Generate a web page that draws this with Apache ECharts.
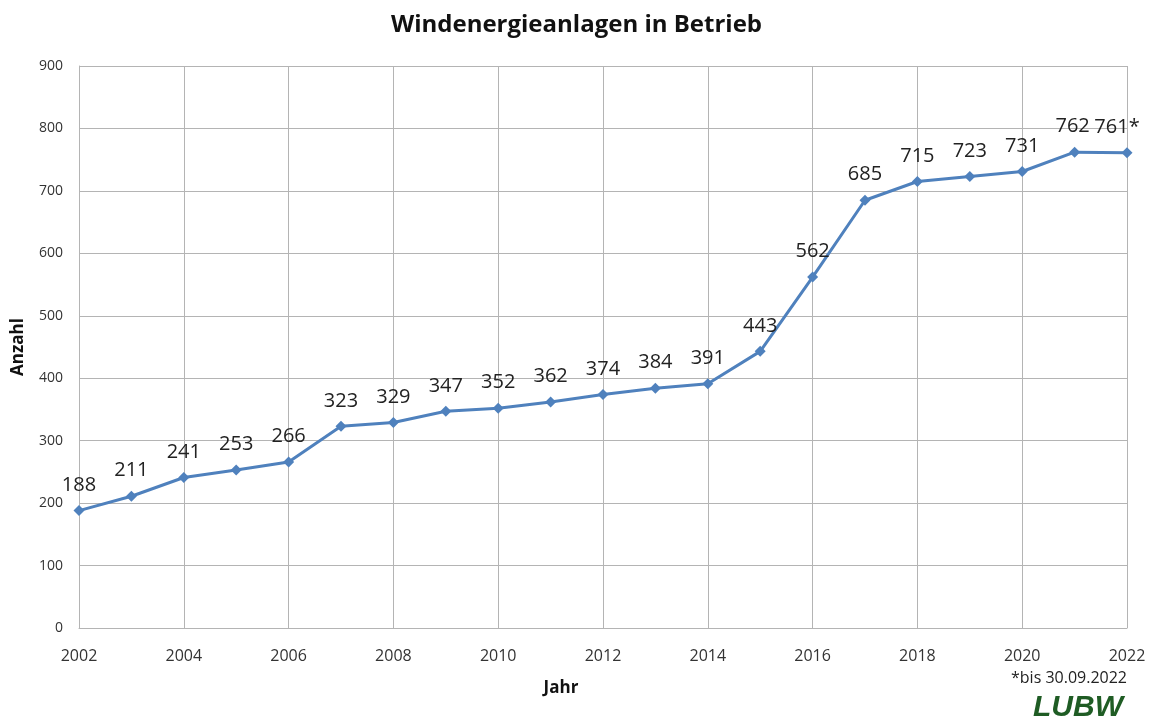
<!DOCTYPE html>
<html><head><meta charset="utf-8">
<script src="https://cdn.jsdelivr.net/npm/echarts@6/dist/echarts.min.js"></script>
<style>html,body{margin:0;padding:0;background:#fff}#c{width:1153px;height:724px}</style>
</head><body><div id="c"></div>
<script>
const years = [2002,2003,2004,2005,2006,2007,2008,2009,2010,2011,2012,2013,2014,2015,2016,2017,2018,2019,2020,2021,2022];
const values = [188,211,241,253,266,323,329,347,352,362,374,384,391,443,562,685,715,723,731,762,761];
const pointLabels = ['188','211','241','253','266','323','329','347','352','362','374','384','391','443','562','685','715','723','731','762','761*'];
const titleText = 'Windenergieanlagen in Betrieb';
const footnote = '*bis 30.09.2022';

const font = '"Open Sans", "Noto Sans", sans-serif';
const data = years.map((y,i)=>{
  const d = {value:[y, values[i]]};
  if (i === years.length-1) d.label = {offset:[-10,0]};
  if (i === years.length-2) d.label = {offset:[-2,0]};
  return d;
});
const chart = echarts.init(document.getElementById('c'), null, {renderer:'canvas'});
chart.setOption({
  animation:false,
  backgroundColor:'#fff',
  title:{text:titleText,left:'center',top:8,textStyle:{fontFamily:font,fontSize:24,fontWeight:'bold',color:'#111'}},
  grid:{left:79,right:26,top:66,bottom:96,containLabel:false,outerBoundsMode:'none'},
  xAxis:{type:'value',min:2002,max:2022,interval:2,
    name:'Jahr',nameLocation:'middle',nameGap:52,
    nameTextStyle:{fontFamily:font,fontSize:17,fontWeight:'bold',color:'#111',padding:[0,84,0,0]},
    axisLine:{show:true,lineStyle:{color:'#b4b4b4'}},axisTick:{show:false},
    axisLabel:{fontFamily:font,fontSize:16,color:'#333',margin:20,formatter:v=>String(v)},
    splitLine:{show:true,lineStyle:{color:'#b4b4b4',width:1}}},
  yAxis:{type:'value',min:0,max:900,interval:100,
    name:'Anzahl',nameLocation:'middle',nameGap:52,nameRotate:90,
    nameTextStyle:{fontFamily:font,fontSize:17,fontWeight:'bold',color:'#111'},
    axisLine:{show:true,lineStyle:{color:'#b4b4b4'}},axisTick:{show:false},
    axisLabel:{fontFamily:font,fontSize:14,color:'#333',margin:16},
    splitLine:{show:true,lineStyle:{color:'#b4b4b4',width:1}}},
  series:[{type:'line',data:data,
    lineStyle:{color:'#4f81bd',width:3},
    itemStyle:{color:'#4f81bd'},
    symbol:'diamond',symbolSize:11,
    label:{show:true,position:'top',distance:10,fontFamily:font,fontSize:20,color:'#222',
      formatter:p=>pointLabels[p.dataIndex]}}],
  graphic:[
    {type:'text',right:26,top:670,style:{text:footnote,font:'16px '+font,fill:'#222'}},
    {type:'text',right:30,top:693,style:{text:'LUBW',font:'italic bold 30px "Liberation Sans", sans-serif',fill:'#1f5c24'}}
  ]
});
</script></body></html>
